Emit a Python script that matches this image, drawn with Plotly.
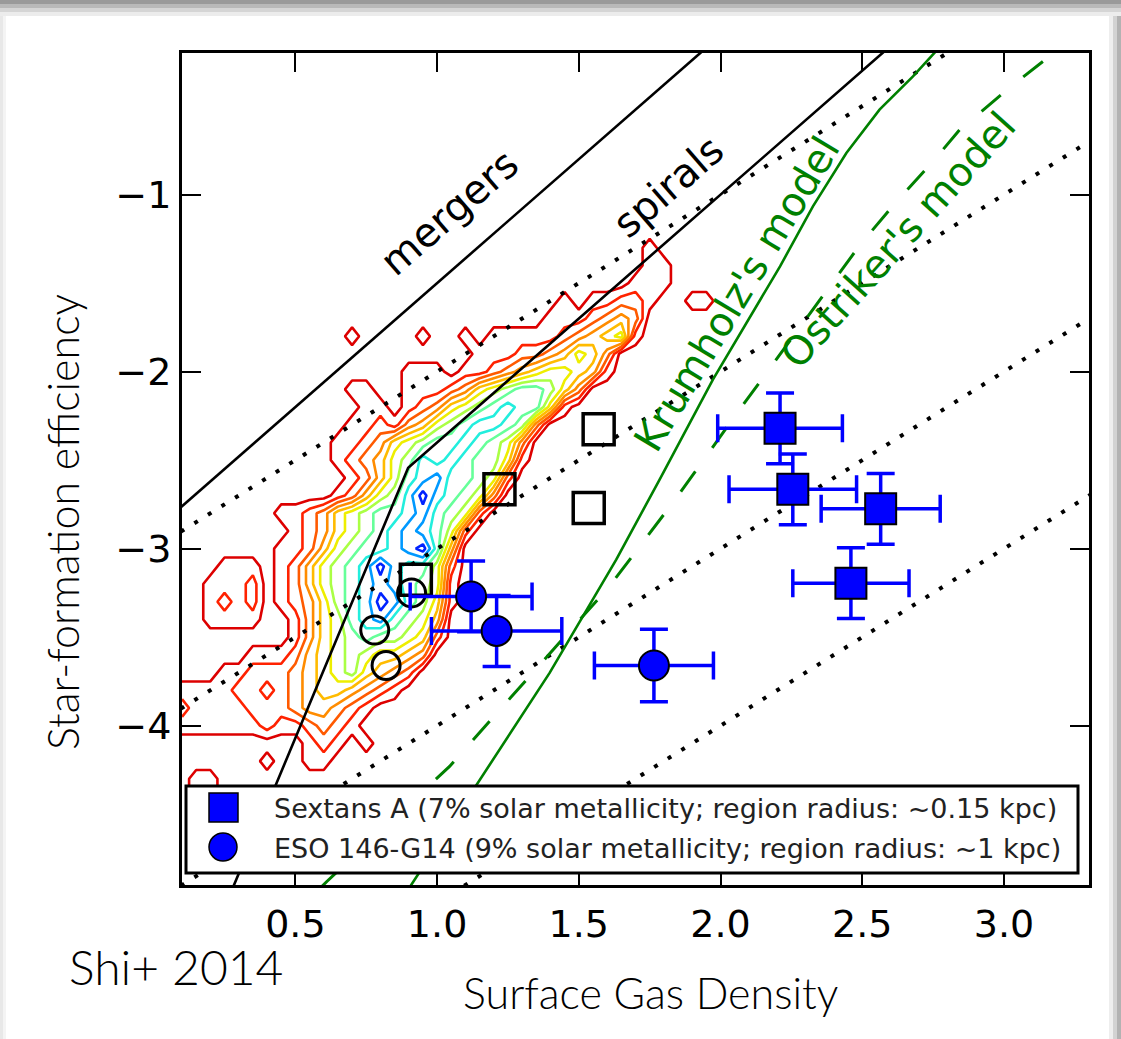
import plotly.graph_objects as go

# ---------------- data ----------------
# Sextans A regions (filled squares) with 1-sigma errors
sextans_x = [2.21, 2.255, 2.565, 2.46]
sextans_y = [-2.32, -2.665, -2.775, -3.195]
sextans_xerr = [0.22, 0.225, 0.21, 0.205]
sextans_yerr = [0.20, 0.20, 0.20, 0.20]

# ESO 146-G14 regions (filled circles)
eso_x = [1.12, 1.21, 1.765]
eso_y = [-3.27, -3.465, -3.66]
eso_xerr = [0.215, 0.23, 0.21]
eso_yerr = [0.20, 0.20, 0.205]

# comparison samples (open symbols)
open_square_x = [1.57, 1.535, 1.22, 0.925]
open_square_y = [-2.325, -2.77, -2.665, -3.175]
open_circle_x = [0.91, 0.78, 0.82]
open_circle_y = [-3.25, -3.46, -3.66]

# empirical sequences
mergers_x = [0.05, 1.95]
mergers_y = [-2.83, -0.17]
spirals_x = [0.26, 0.898, 2.60]
spirals_y = [-4.99, -2.543, -0.16]

# dotted guide lines
guide_x = [[0.0, 3.0], [0.0, 3.4], [0.0, 3.4], [1.0, 3.4]]
guide_y = [[-3.0, 0.0], [-4.0, -0.6], [-5.0, -1.6], [-5.0, -2.6]]

# model curves
krumholz_x = [0.88, 1.144, 1.397, 1.632, 1.785, 1.973, 2.21, 2.268, 2.326,
              2.444, 2.561, 2.679, 2.76]
krumholz_y = [-4.97, -4.32, -3.702, -3.062, -2.61, -2.045, -1.405, -1.236,
              -1.066, -0.765, -0.52, -0.332, -0.19]
ostriker_x = [0.58, 0.611, 1.044, 1.608, 1.844, 2.067, 2.375, 2.493, 2.62,
              2.749, 2.844, 3.026, 3.138, 3.22]
ostriker_y = [-4.93, -4.88, -4.23, -3.213, -2.714, -2.215, -1.541, -1.282,
              -1.041, -0.814, -0.633, -0.388, -0.247, -0.15]

# pixel-by-pixel density of the resolved-region sample, levels 0..11 (hex),
# columns x = 0.10 .. 2.05 step 0.05, rows y = -1.2 (top) .. -4.9 (bottom)
density_rows = [
    "0000000000" "0000000000" "0000000000" "0000000000",  # -1.2
    "0000000000" "0000000000" "0000000000" "0001000000",  # -1.3
    "0000000000" "0000000000" "0000000000" "0001100000",  # -1.4
    "0000000000" "0000000000" "0000000000" "0011100000",  # -1.5
    "0000000000" "0000000000" "0000000101" "1221001100",  # -1.6
    "0000000000" "0000000000" "0000001112" "3430000000",  # -1.7
    "0000000000" "0010000100" "1011111234" "5610000000",  # -1.8
    "0000000000" "0000000000" "0111223465" "3000000000",  # -1.9
    "0000000000" "0000001110" "1123456654" "1000000000",  # -2.0
    "0000000000" "0011001112" "3567887530" "0000000000",  # -2.1
    "0000000000" "0001101235" "6789885100" "0000000000",  # -2.2
    "0000000000" "0011213467" "8998730000" "0000000000",  # -2.3
    "0000000000" "0112356788" "9876300000" "0000000000",  # -2.4
    "0000000000" "0123467989" "8775100000" "0000000000",  # -2.5
    "0000000000" "00124689a8" "8762000000" "0000000000",  # -2.6
    "0000000000" "0124679b98" "7630000000" "0000000000",  # -2.7
    "0000000112" "3567889a87" "6200000000" "0000000000",  # -2.8
    "0000000012" "356789a986" "2000000000" "0000000000",  # -2.9
    "0000000112" "467889ab84" "0000000000" "0000000000",  # -3.0
    "0001110124" "6789b98862" "0000000000" "0000000000",  # -3.1
    "0011120124" "6789a98761" "0000000000" "0000000000",  # -3.2
    "0012120123" "5789ba8751" "0000000000" "0000000000",  # -3.3
    "0011110013" "5689a87640" "0000000000" "0000000000",  # -3.4
    "0000000013" "5678776520" "0000000000" "0000000000",  # -3.5
    "0000011124" "5676554300" "0000000000" "0000000000",  # -3.6
    "0001122234" "5675432000" "0000000000" "0000000000",  # -3.7
    "1111221234" "5543210000" "0000000000" "0000000000",  # -3.8
    "2111122234" "4321000000" "0000000000" "0000000000",  # -3.9
    "1111112112" "3210000000" "0000000000" "0000000000",  # -4.0
    "0000000001" "2101000000" "0000000000" "0000000000",  # -4.1
    "0000001001" "1000000000" "0000000000" "0000000000",  # -4.2
    "0110000000" "0000000000" "0000000000" "0000000000",  # -4.3
    "0110000000" "0000000000" "0000000000" "0000000000",  # -4.4
    "0000000000" "0000000000" "0000000000" "0000000000",  # -4.5
    "0000000000" "0000000000" "0000000000" "0000000000",  # -4.6
    "0000000000" "0000000000" "0000000000" "0000000000",  # -4.7
    "0000000000" "0000000000" "0000000000" "0000000000",  # -4.8
    "0000000000" "0000000000" "0000000000" "0000000000",  # -4.9
]
grid_x = [round(0.10 + 0.05 * i, 2) for i in range(len(density_rows[0]))]
grid_y = [round(-4.9 + 0.1 * j, 1) for j in range(len(density_rows))]
density = [[int(c, 16) for c in row] for row in reversed(density_rows)]

level_colors = ["#dd0000", "#ff2200", "#ff5a00", "#ff8c00", "#ffbb00",
                "#eeee00", "#aaff44", "#66ff99", "#22eedd", "#0099ff", "#0022ff"]

x_tick_vals = [0.5, 1.0, 1.5, 2.0, 2.5, 3.0]
x_tick_text = ["0.5", "1.0", "1.5", "2.0", "2.5", "3.0"]
y_tick_vals = [-1, -2, -3, -4]
y_tick_text = ["\u22121", "\u22122", "\u22123", "\u22124"]

legend_labels = ["Sextans A (7% solar metallicity; region radius: ~0.15 kpc)",
                 "ESO 146-G14 (9% solar metallicity; region radius: ~1 kpc)"]

# ---------------- geometry ----------------
W, H = 1121, 1039
ML, MR, MT, MB = 182, 32, 53, 154
PW, PH = W - ML - MR, H - MT - MB


def paper_x(px):
    return (px - ML) / PW


def paper_y(py):
    return (H - MB - py) / PH


BLUE = "#0000ff"
GREEN = "#008000"

fig = go.Figure()

# density contours
fig.add_trace(go.Contour(
    x=grid_x, y=grid_y, z=density, autocontour=False,
    contours=dict(start=0.5, end=10.5, size=1, coloring="lines"),
    colorscale=[[i / 10, c] for i, c in enumerate(level_colors)],
    showscale=False, line=dict(width=2.6, smoothing=0), hoverinfo="skip"))

# dotted guides
for gx, gy in zip(guide_x, guide_y):
    fig.add_trace(go.Scatter(x=gx, y=gy, mode="lines",
                             line=dict(color="black", width=4, dash="4px,12px"),
                             hoverinfo="skip"))

# sequences
fig.add_trace(go.Scatter(x=mergers_x, y=mergers_y, mode="lines",
                         line=dict(color="black", width=2.6)))
fig.add_trace(go.Scatter(x=spirals_x, y=spirals_y, mode="lines",
                         line=dict(color="black", width=2.6)))

# models
fig.add_trace(go.Scatter(x=krumholz_x, y=krumholz_y, mode="lines",
                         line=dict(color=GREEN, width=2.6)))
fig.add_trace(go.Scatter(x=ostriker_x, y=ostriker_y, mode="lines",
                         line=dict(color=GREEN, width=3, dash="25px,29px")))

# open comparison points
fig.add_trace(go.Scatter(x=open_square_x, y=open_square_y, mode="markers",
                         marker=dict(symbol="square-open", size=31, color="black",
                                     line=dict(width=3.5))))
fig.add_trace(go.Scatter(x=open_circle_x, y=open_circle_y, mode="markers",
                         marker=dict(symbol="circle-open", size=28, color="black",
                                     line=dict(width=3))))

# measured regions
fig.add_trace(go.Scatter(
    x=sextans_x, y=sextans_y, mode="markers", name=legend_labels[0],
    marker=dict(symbol="square", size=31, color=BLUE, line=dict(color="black", width=2)),
    error_x=dict(type="data", array=sextans_xerr, color=BLUE, thickness=3.5, width=14),
    error_y=dict(type="data", array=sextans_yerr, color=BLUE, thickness=3.5, width=14)))
fig.add_trace(go.Scatter(
    x=eso_x, y=eso_y, mode="markers", name=legend_labels[1],
    marker=dict(symbol="circle", size=30, color=BLUE, line=dict(color="black", width=2)),
    error_x=dict(type="data", array=eso_xerr, color=BLUE, thickness=3.5, width=14),
    error_y=dict(type="data", array=eso_yerr, color=BLUE, thickness=3.5, width=14)))

shapes = []
# card edge shading
for y0, y1, col in [(0, 4, "#9a9a9a"), (4, 8, "#b9b9b9"), (8, 12, "#d5d5d5"),
                    (12, 16, "#ececec")]:
    shapes.append(dict(type="rect", xref="paper", yref="paper", layer="below",
                       x0=paper_x(0), x1=paper_x(W), y0=paper_y(y1), y1=paper_y(y0),
                       line=dict(width=0), fillcolor=col))
for x0, x1, col in [(1109, 1113, "#eeeeee"), (1113, 1117, "#d2d2d2"),
                    (1117, 1121, "#b2b2b2"), (0, 3, "#e8e8e8"), (3, 6, "#f4f4f4")]:
    shapes.append(dict(type="rect", xref="paper", yref="paper", layer="below",
                       x0=paper_x(x0), x1=paper_x(x1), y0=paper_y(H), y1=paper_y(16),
                       line=dict(width=0), fillcolor=col))

# legend box and symbols
shapes.append(dict(type="rect", xref="paper", yref="paper", layer="above",
                   x0=paper_x(186), x1=paper_x(1078), y0=paper_y(873), y1=paper_y(786),
                   line=dict(color="black", width=3), fillcolor="white"))
shapes.append(dict(type="rect", xref="paper", yref="paper", layer="above",
                   x0=paper_x(209), x1=paper_x(238), y0=paper_y(822), y1=paper_y(793),
                   line=dict(color="black", width=1.5), fillcolor=BLUE))
shapes.append(dict(type="circle", xref="paper", yref="paper", layer="above",
                   x0=paper_x(209), x1=paper_x(237), y0=paper_y(861), y1=paper_y(833),
                   line=dict(color="black", width=1.5), fillcolor=BLUE))

annotations = []
for text, yy in zip(legend_labels, [808, 848]):
    annotations.append(dict(text=text, xref="paper", yref="paper", x=paper_x(272),
                            y=paper_y(yy), xanchor="left", yanchor="middle",
                            showarrow=False,
                            font=dict(family="DejaVu Sans", size=27, color="#222222")))

curve_labels = [("mergers", 1.045, -1.10, -41, "black"),
                ("spirals", 1.813, -0.955, -41, "black"),
                ("Krumholz's model", 2.057, -1.562, -59, GREEN),
                ("Ostriker's model", 2.625, -1.255, -48, GREEN)]
for text, xx, yy, ang, col in curve_labels:
    annotations.append(dict(text=text, x=xx, y=yy, xref="x", yref="y", textangle=ang,
                            showarrow=False, xanchor="center", yanchor="middle",
                            font=dict(family="DejaVu Sans", size=40, color=col)))

title_font = dict(family="Lato Light, Lato", size=43, color="black", weight=300)
annotations.append(dict(text="Star-formation efficiency", xref="paper", yref="paper",
                        x=paper_x(62), y=paper_y(522), textangle=-90, showarrow=False,
                        xanchor="center", yanchor="middle", font=title_font))
annotations.append(dict(text="Surface Gas Density", xref="paper", yref="paper",
                        x=paper_x(650), y=paper_y(992), showarrow=False,
                        xanchor="center", yanchor="middle", font=title_font))
annotations.append(dict(text="Shi+ 2014", xref="paper", yref="paper",
                        x=paper_x(176), y=paper_y(966), showarrow=False,
                        xanchor="center", yanchor="middle",
                        font=dict(family="Lato Light, Lato", size=48, color="black",
                                  weight=300)))

axis_common = dict(ticks="inside", ticklen=19, tickwidth=2, tickcolor="black",
                   showline=True, linewidth=3, linecolor="black", mirror="ticks",
                   showgrid=False, zeroline=False,
                   tickfont=dict(family="DejaVu Sans", size=38, color="black"))
fig.update_xaxes(range=[0.1, 3.3], tickvals=x_tick_vals, ticktext=x_tick_text,
                 ticklabelstandoff=3, **axis_common)
fig.update_yaxes(range=[-4.9, -0.2], tickvals=y_tick_vals, ticktext=y_tick_text,
                 **axis_common)

fig.update_layout(width=W, height=H, margin=dict(l=ML, r=MR, t=MT, b=MB),
                  paper_bgcolor="white", plot_bgcolor="white", showlegend=False,
                  shapes=shapes, annotations=annotations)

fig.write_html("out.html")
